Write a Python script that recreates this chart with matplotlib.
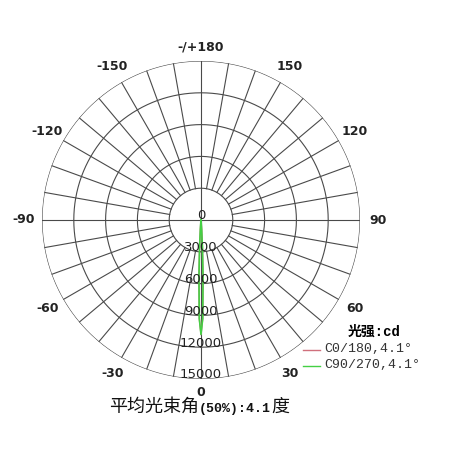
import numpy as np
import matplotlib
matplotlib.use("Agg")
import matplotlib.pyplot as plt
from matplotlib.lines import Line2D

# ---- data ----
angle_labels = [0, 30, 60, 90, 120, 150, 180, -150, -120, -90, -60, -30]
angle_texts = ["0", "30", "60", "90", "120", "150", "-/+180", "-150", "-120", "-90", "-60", "-30"]
ring_values = [3000, 6000, 9000, 12000, 15000]
ring_texts = ["3000", "6000", "9000", "12000", "15000"]

c0_angles = [-12, -8, -6, -4, -3, -2.05, -1, 0, 1, 2.05, 3, 4, 6, 8, 12]
c0_values = [0, 30, 150, 900, 2600, 5400, 9300, 10800, 9300, 5400, 2600, 900, 150, 30, 0]
c90_angles = [-12, -8, -6, -4, -3, -2.05, -1, 0, 1, 2.05, 3, 4, 6, 8, 12]
c90_values = [0, 30, 150, 900, 2600, 5400, 9300, 10800, 9300, 5400, 2600, 900, 150, 30, 0]

series_names = ["C0/180,4.1°", "C90/270,4.1°"]
series_colors = ["#d0707c", "#44d044"]
legend_title = "光强:cd"
title_parts = ["平均光束角", "(50%):4.1", "度"]

W, H = 450, 454
fig = plt.figure(figsize=(W / 100, H / 100), dpi=100)
cx, cy, R = 201, 220, 159
ax = fig.add_axes([(cx - R) / W, (H - cy - R) / H, 2 * R / W, 2 * R / H], projection="polar")
ax.set_theta_zero_location("S")
ax.set_theta_direction(1)
rmax = ring_values[-1]
ax.set_ylim(0, rmax)
ax.set_xticks([])
ax.set_yticks([])
ax.grid(False)
ax.spines["polar"].set_visible(False)
ax.patch.set_alpha(0)

gc = "#4a4a4a"
glw = 0.8
th = np.linspace(0, 2 * np.pi, 721)
for rv in ring_values:
    ax.plot(th, np.full_like(th, rv), color=gc, lw=glw, zorder=1)
for a in range(0, 360, 10):
    t = np.deg2rad(a)
    if a % 90 == 0:
        ax.plot([t, t], [0, rmax], color=gc, lw=glw, zorder=1)
    else:
        ax.plot([t, t], [ring_values[0], rmax], color=gc, lw=glw, zorder=1)

# curves
ax.plot(np.deg2rad(c0_angles), c0_values, color=series_colors[0], lw=1.0, zorder=3)
ax.plot(np.deg2rad(c90_angles), c90_values, color=series_colors[1], lw=1.2, zorder=4)

# angle labels
for a, s in zip(angle_labels, angle_texts):
    rr = 16300 if a in (0, 180) else 16750
    ax.text(np.deg2rad(a), rr, s, ha="center", va="center", fontsize=9,
            fontweight="bold", color="#222222", clip_on=False)

# ring labels
ax.text(np.pi, 470, "0", ha="center", va="center", fontsize=9.5, color="#222222", zorder=5)
for rv, s in zip(ring_values, ring_texts):
    ax.text(0, rv - 380, s, ha="center", va="center", fontsize=9.5, color="#222222", zorder=5)

# legend
fig.text(348 / W, 1 - 331.5 / H, legend_title, fontsize=10, fontweight="bold",
         family=["Liberation Mono", "Noto Sans CJK SC"], ha="left", va="center")
for i, (name, col) in enumerate(zip(series_names, series_colors)):
    y = 1 - (349.5 + 16 * i) / H
    fig.add_artist(Line2D([303 / W, 320 / W], [y, y], color=col, lw=1.0))
    fig.text(324 / W, y, name, fontsize=9.5, family=["Liberation Mono", "DejaVu Sans"],
             ha="left", va="center", color="#333333")

# bottom title (CJK glyphs larger than the Latin part, as in the reference)
yb = 1 - 412 / H
fig.text(199 / W, yb, title_parts[0], fontsize=13, family=["Noto Sans CJK SC"],
         ha="right", va="baseline", color="#111111")
fig.text(199 / W, yb, title_parts[1], fontsize=9.5, fontweight="bold",
         family=["Liberation Mono", "DejaVu Sans Mono"], ha="left", va="baseline", color="#111111")
fig.text(271 / W, yb, title_parts[2], fontsize=13, family=["Noto Sans CJK SC"],
         ha="left", va="baseline", color="#111111")

fig.savefig("out.png", dpi=100, facecolor="white")
